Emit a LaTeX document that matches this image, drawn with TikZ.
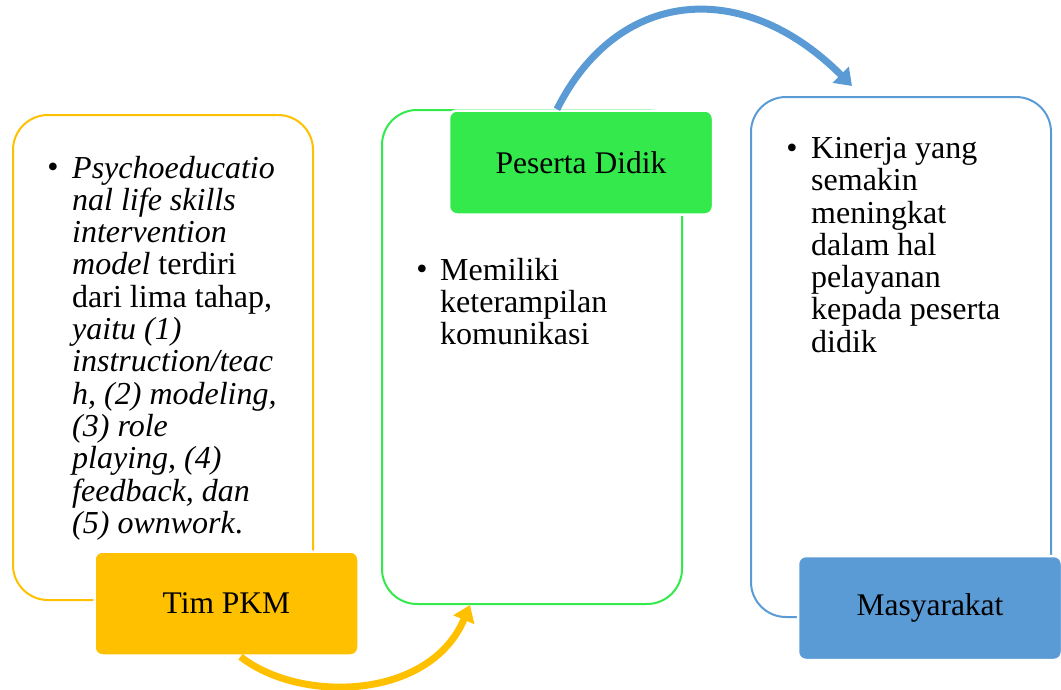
\documentclass[tikz,border=0pt]{standalone}
\usepackage{fontspec}
\setmainfont{Liberation Serif}
\usetikzlibrary{arrows.meta}
\definecolor{pkmyellow}{HTML}{FFC000}
\definecolor{didikgreen}{HTML}{33E94C}
\definecolor{masyblue}{HTML}{5B9BD5}
\tikzset{
  panel/.style={draw, line width=2pt, rounded corners=35pt, inner sep=0pt, minimum width=300pt},
  tagbox/.style={draw=white, line width=2.5pt, rounded corners=8pt, inner sep=0pt, minimum width=264pt, minimum height=104pt, font=\fontsize{31.5}{32}\selectfont},
  listtext/.style={anchor=north west, align=left, inner sep=0pt, font=\fontsize{32}{32.3}\selectfont},
  dot/.style={anchor=base, inner sep=0pt, font=\fontsize{32}{32}\selectfont},
  flow/.style={line width=7pt, -{Triangle[width=22pt,length=16pt]}}
}
\begin{document}
\begin{tikzpicture}[x=1pt,y=-1pt]
\useasboundingbox (0,0) rectangle (1061,689);
% panels
\node[panel, draw=pkmyellow, minimum height=485pt] (pkmpanel) at (163,357.5) {};
\node[panel, draw=didikgreen, minimum height=494pt] (didikpanel) at (532,357) {};
\node[panel, draw=masyblue, minimum height=520pt] (masypanel) at (901,357) {};
% tags
\node[tagbox, fill=pkmyellow] (pkm) at (226.5,603.5) {Tim PKM};
\node[tagbox, fill=didikgreen] (didik) at (581,162.5) {Peserta Didik};
\node[tagbox, fill=masyblue] (masy) at (930,608) {Masyarakat};
% lists
\node[dot] (pkmdot) at (53,177) {\textbullet};
\node[listtext] (pkmtext) at (72,155.6) {\textit{Psychoeducatio}\\ \textit{nal life skills}\\ \textit{intervention}\\ \textit{model} terdiri\\ dari lima tahap,\\ \textit{yaitu (1)}\\ \textit{instruction/teac}\\ \textit{h, (2) modeling,}\\ \textit{(3) role}\\ \textit{playing, (4)}\\ \textit{feedback, dan}\\ \textit{(5) ownwork}.};
\node[dot] (didikdot) at (422,279) {\textbullet};
\node[listtext] (didiktext) at (440,257.6) {Memiliki\\ keterampilan\\ komunikasi};
\node[dot] (masydot) at (792,158) {\textbullet};
\node[listtext] (masytext) at (811,137.1) {Kinerja yang\\ semakin\\ meningkat\\ dalam hal\\ pelayanan\\ kepada peserta\\ didik};
% arrows
\draw[flow, pkmyellow] ([xshift=14pt]pkm.south) .. controls +(60,47) and +(-40,95) .. ([xshift=-62pt]didikpanel.south);
\draw[flow, masyblue] ([xshift=-24pt]didik.north) .. controls +(60,-120) and +(-110,-110) .. ([xshift=-49pt,yshift=10pt]masypanel.north);
\end{tikzpicture}
\end{document}
